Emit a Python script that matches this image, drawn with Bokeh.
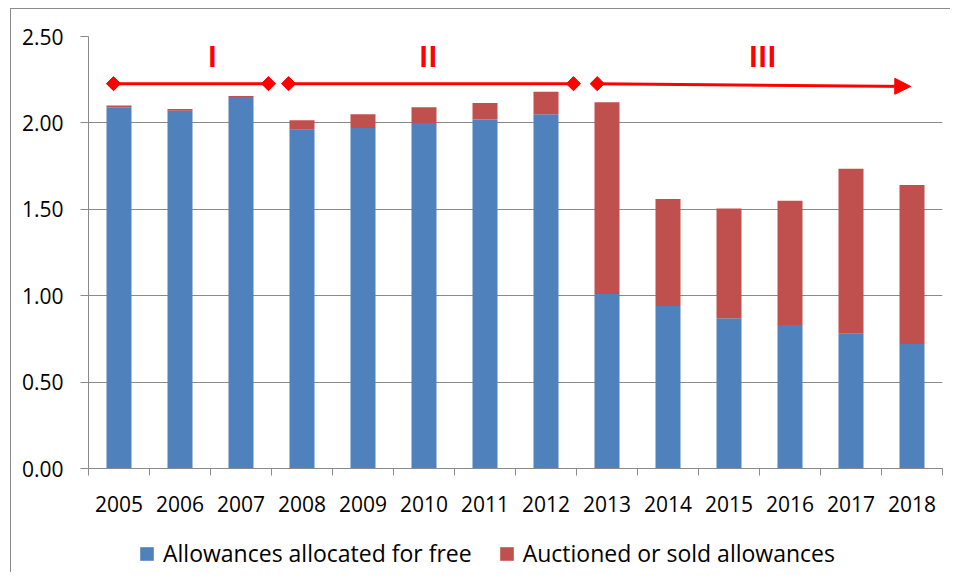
import numpy as np
from bokeh.plotting import figure
from bokeh.layouts import column
from bokeh.models import (Range1d, FixedTicker, Legend, LegendItem, Arrow, NormalHead,
                          ColumnDataSource, NumeralTickFormatter)
from bokeh.core.properties import value
from bokeh.embed import file_html
from bokeh.resources import INLINE

# ---- data ----
years = ["2005", "2006", "2007", "2008", "2009", "2010", "2011",
         "2012", "2013", "2014", "2015", "2016", "2017", "2018"]
free = [2.09, 2.07, 2.15, 1.96, 1.97, 2.00, 2.02, 2.05, 1.01, 0.94, 0.87, 0.83, 0.78, 0.72]
auctioned = [0.01, 0.01, 0.006, 0.055, 0.08, 0.09, 0.095, 0.13, 1.11, 0.62, 0.635, 0.72, 0.955, 0.92]
series_names = ["Allowances allocated for free", "Auctioned or sold allowances"]
y_ticks = [0.0, 0.5, 1.0, 1.5, 2.0, 2.5]

# trading phases (positions in year units)
phase_labels = ["I", "II", "III"]
phase_start = [2004.91, 2007.78, 2012.84]
phase_end = [2007.45, 2012.45, 2017.98]
phase_level_start = [2.227, 2.227, 2.227]
phase_level_end = [2.227, 2.227, 2.211]
phase_label_x = [2006.53, 2010.07, 2015.55]
phase_label_y = [2.39, 2.39, 2.39]

BLUE = "#4F81BD"
RED = "#C0504D"
GRID = "#8A8A8A"
FONT = "Open Sans"

first_year = int(years[0])
def yx(v):
    return [float(x) - first_year for x in v]

src = ColumnDataSource(dict(x=list(range(len(years))), free=free, auctioned=auctioned))

p = figure(x_range=Range1d(-0.5, len(years) - 0.5), y_range=Range1d(0, 2.5),
           frame_width=854, frame_height=432,
           min_border_left=77, min_border_right=8, min_border_top=27, min_border_bottom=60,
           output_backend="svg", toolbar_location=None)
p.outline_line_color = None
p.background_fill_color = "white"
p.styles = {"box-shadow": "0px -1px 0px 0px #8A8A8A"}

renderers = p.vbar_stack(["free", "auctioned"], x="x", width=0.41, color=[BLUE, RED],
                         line_color=None, source=src)

# axes
xa = p.xaxis[0]
xa.ticker = FixedTicker(ticks=list(range(len(years))),
                        minor_ticks=[i - 0.5 for i in range(len(years) + 1)])
xa.major_label_overrides = {i: y for i, y in enumerate(years)}
xa.major_tick_out = 0
xa.major_tick_in = 0
xa.minor_tick_out = 7
xa.minor_tick_in = 0
xa.minor_tick_line_color = GRID
xa.axis_line_color = GRID
xa.major_label_text_font = FONT
xa.major_label_text_font_size = "21px"
xa.major_label_text_color = "black"
xa.major_label_standoff = 20

ya = p.yaxis[0]
ya.ticker = FixedTicker(ticks=y_ticks, minor_ticks=[])
ya.formatter = NumeralTickFormatter(format="0.00")
ya.major_tick_out = 8
ya.major_tick_in = 0
ya.major_tick_line_color = GRID
ya.axis_line_color = GRID
ya.major_label_text_font = FONT
ya.major_label_text_font_size = "21px"
ya.major_label_text_color = "black"
ya.major_label_standoff = 17

p.xgrid.visible = False
p.ygrid.grid_line_color = GRID
p.ygrid.grid_line_width = 1

# phases
ps = yx(phase_start)
pe = yx(phase_end)
p.segment(x0=ps[:2], y0=phase_level_start[:2], x1=pe[:2], y1=phase_level_end[:2],
          line_color="red", line_width=3)
p.add_layout(Arrow(end=NormalHead(size=16, fill_color="red", line_color="red"),
                   x_start=ps[2], y_start=phase_level_start[2],
                   x_end=pe[2], y_end=phase_level_end[2],
                   line_color="red", line_width=3))
p.scatter(x=ps + pe[:2], y=phase_level_start + phase_level_end[:2], marker="square",
          angle=np.pi / 4, size=10, color="red")
p.text(x=yx(phase_label_x), y=phase_label_y, text=phase_labels, text_color="red",
       text_font=value(FONT), text_font_style="bold", text_font_size="28px",
       text_align="center", text_baseline="middle")

# legend strip below the chart (swatch renderers have zero-height bars only)
pl = figure(width=939, height=45, x_range=Range1d(0, 1), y_range=Range1d(0, 1),
            min_border=0, x_axis_location=None, y_axis_location=None,
            output_backend="svg", toolbar_location=None)
pl.outline_line_color = None
pl.grid.visible = False
swatches = [pl.vbar(x=[-1], top=[0], bottom=[0], width=0.1, color=c, line_color=None)
            for c in (BLUE, RED)]
legend = Legend(items=[LegendItem(label=series_names[i], renderers=[swatches[i]]) for i in range(2)],
                orientation="horizontal", location=(50, 4))
legend.glyph_width = 17
legend.glyph_height = 17
legend.label_standoff = 8
legend.spacing = 26
legend.padding = 0
legend.margin = 0
legend.border_line_color = None
legend.background_fill_alpha = 0
legend.label_text_font = FONT
legend.label_text_font_size = "23px"
legend.label_text_color = "black"
pl.add_layout(legend, "center")

layout = column(p, pl, spacing=0)
layout.margin = (9, 0, 0, 11)
layout.styles = {"box-shadow": "-1px -1px 0px 0px #8A8A8A"}

open("out.html", "w").write(file_html(layout, INLINE))
